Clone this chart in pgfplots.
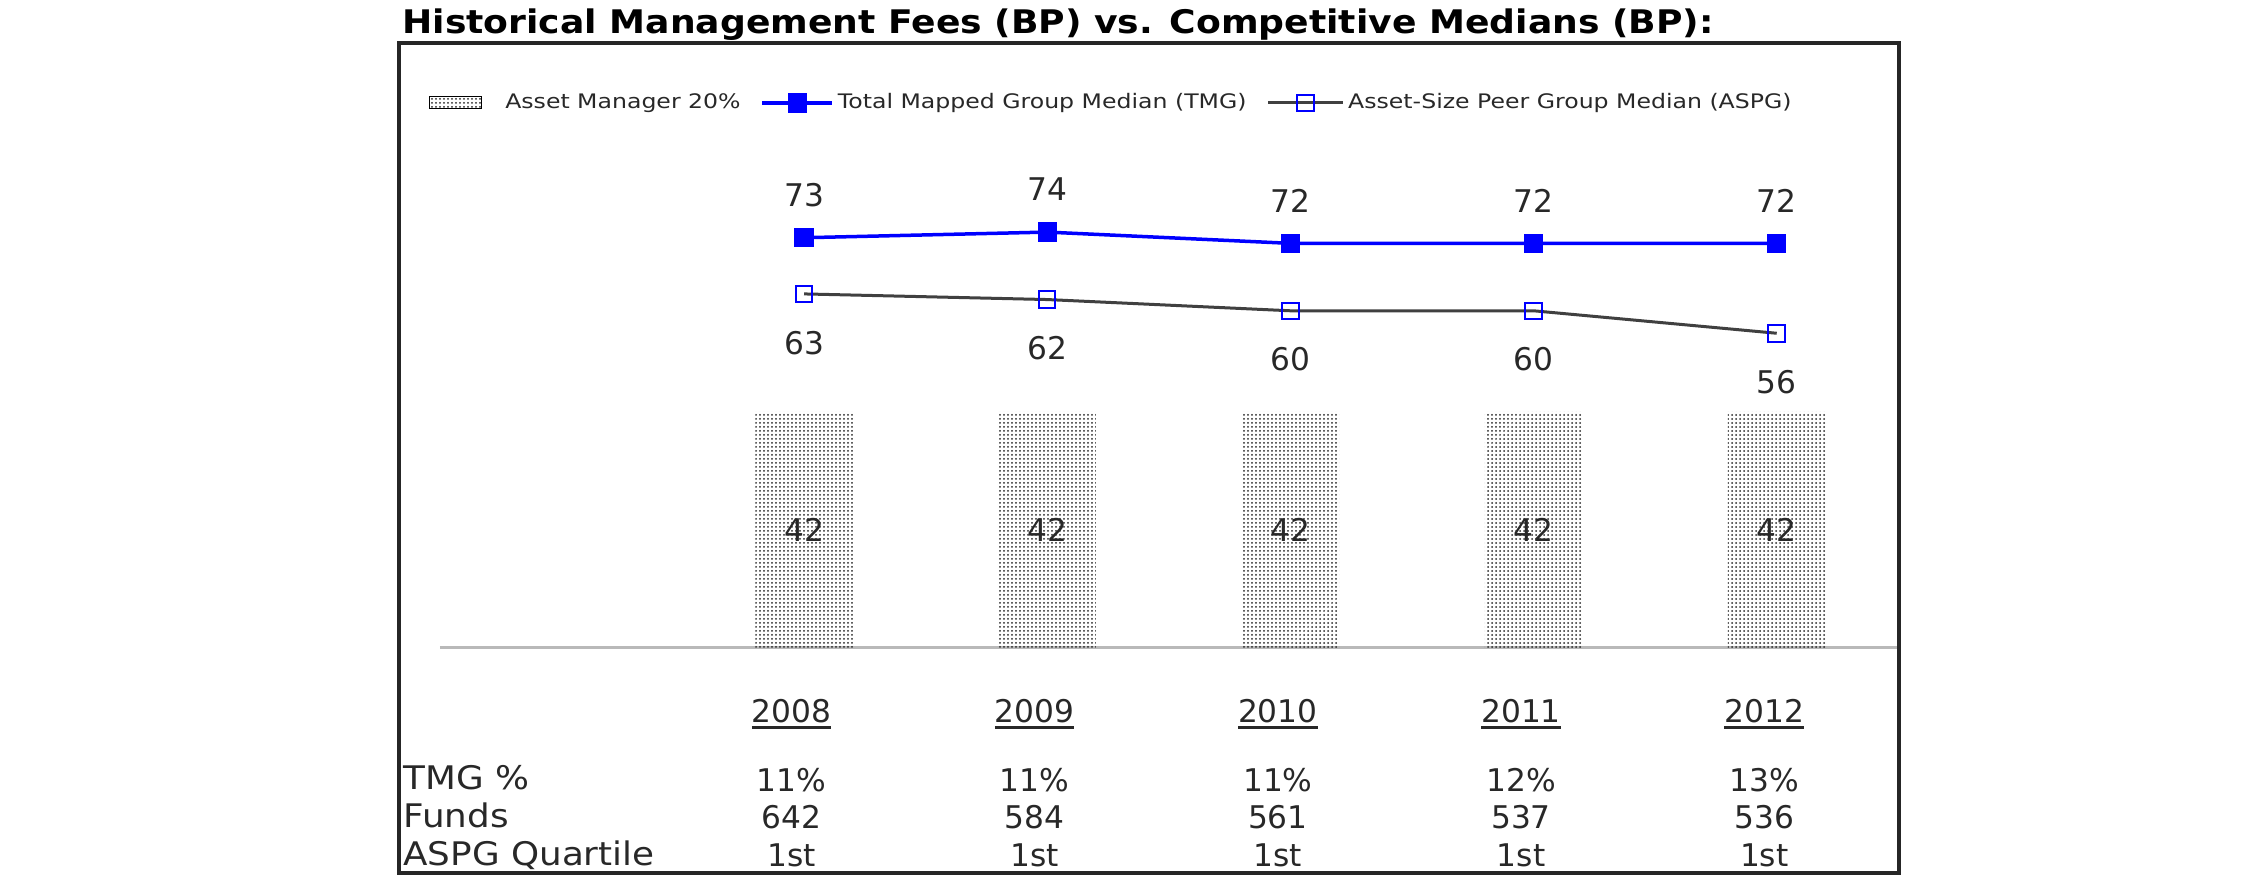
\documentclass[border=0pt]{standalone}
\usepackage{fontspec}
\setmainfont{DejaVu Sans}
\usepackage{graphicx}
\usepackage{pgfplots}
\pgfplotsset{compat=1.18}
\usetikzlibrary{patterns.meta}
\definecolor{tmgblue}{RGB}{0,0,255}
\definecolor{aspggray}{RGB}{64,64,64}
\definecolor{txtgray}{RGB}{40,40,40}
\definecolor{basegray}{RGB}{185,185,185}
\newcommand\labfont{\fontsize{12.5}{15}\selectfont}
\newcommand\rowfont{\fontsize{13}{15}\selectfont}
\newcommand\legfont{\fontsize{8}{9.5}\selectfont}
\newcommand\titlefont{\fontsize{13}{15}\selectfont\bfseries}
\newcommand\leg[1]{\scalebox{1.18}[1]{#1}}
\newsavebox\ulbox
\newcommand\ul[1]{\sbox\ulbox{#1}\rlap{\rule[-2.8pt]{\wd\ulbox}{1.2pt}}\usebox\ulbox}
\pgfplotsset{
  barlegend/.style={legend image code/.code={\draw[##1] (0pt,-2.4pt) rectangle (21pt,2.4pt); \path (29pt,0pt);}},
  linelegend/.style={legend image code/.code={\draw[mark repeat=2,mark phase=2,##1] plot coordinates {(0pt,0pt) (#1/2,0pt) (#1,0pt)};}},
}

\begin{document}
\begin{tikzpicture}
\begin{axis}[
  scale only axis, width=584.4pt, height=242pt,
  xmin=-1.497, xmax=4.511, ymin=0, ymax=107.65,
  clip=false,
  /pgf/number format/assume math mode=true,
  axis y line=none, axis x line*=bottom,
  x axis line style={basegray, line width=1.2pt},
  ytick=\empty,
  xtick={0,1,2,3,4}, major tick length=0pt,
  xticklabels={
    {\ul{2008}\\[12.6pt]11\%\\642\\1st},
    {\ul{2009}\\[12.6pt]11\%\\584\\1st},
    {\ul{2010}\\[12.6pt]11\%\\561\\1st},
    {\ul{2011}\\[12.6pt]12\%\\537\\1st},
    {\ul{2012}\\[12.6pt]13\%\\536\\1st}},
  xticklabel style={align=center, font=\labfont, text=txtgray, anchor=north, yshift=-16.8pt, xshift=-5pt},
  legend columns=3,
  legend style={at={(-0.0082,0.9008)}, anchor=west, draw=none, fill=none,
    font=\legfont, text=txtgray, inner sep=0pt,
    nodes={inner sep=1.5pt},
    /tikz/every even column/.append style={column sep=6.5pt}},
]
% Asset Manager 20%
\addplot[ybar, bar width=39pt, draw=none,
  pattern={Dots[distance=1.6pt, radius=0.4pt]}, pattern color=black!85,
  nodes near coords,
  every node near coord/.append style={anchor=center, yshift=-47.2pt, font=\labfont, text=txtgray},
  barlegend]
  coordinates {(0,42) (1,42) (2,42) (3,42) (4,42)};
\addlegendentry{\leg{Asset Manager 20\%}}
% TMG median
\addplot[tmgblue, line width=1.4pt, mark=square*, mark size=3.6pt,
  mark options={solid, line width=0.5pt},
  nodes near coords,
  every node near coord/.append style={anchor=center, yshift=17pt, font=\labfont, text=txtgray},
  linelegend=28pt]
  coordinates {(0,73) (1,74) (2,72) (3,72) (4,72)};
\addlegendentry{\leg{Total Mapped Group Median (TMG)}}
% ASPG median
\addplot[aspggray, line width=1.2pt, mark=square, mark size=3.3pt,
  mark options={solid, tmgblue, line width=0.8pt},
  nodes near coords,
  every node near coord/.append style={anchor=center, yshift=-19.5pt, font=\labfont, text=txtgray},
  linelegend=30pt]
  coordinates {(0,63) (1,62) (2,60) (3,60) (4,56)};
\addlegendentry{\leg{Asset-Size Peer Group Median (ASPG)}}

\path (rel axis cs:-0.30116,-0.40826) rectangle (rel axis cs:1.23888,1.07107);
\draw[black!85, line width=1.8pt] (rel axis cs:-0.0281,-0.3719) rectangle (rel axis cs:0.9986,1.0);
\node[anchor=base west, font=\titlefont, inner sep=0pt, text=black] at (rel axis cs:-0.0260,1.0149)
  {\scalebox{1.112}[1]{Historical Management Fees (BP) vs. Competitive Medians (BP):}};
\node[anchor=base west, font=\rowfont, text=txtgray, inner sep=0pt] at (rel axis cs:-0.0253,-0.2347) {\scalebox{1.1}[1]{TMG \%}};
\node[anchor=base west, font=\rowfont, text=txtgray, inner sep=0pt] at (rel axis cs:-0.0253,-0.2975) {\scalebox{1.1}[1]{Funds}};
\node[anchor=base west, font=\rowfont, text=txtgray, inner sep=0pt] at (rel axis cs:-0.0253,-0.3587) {\scalebox{1.1}[1]{ASPG Quartile}};
\end{axis}
\end{tikzpicture}
\end{document}
